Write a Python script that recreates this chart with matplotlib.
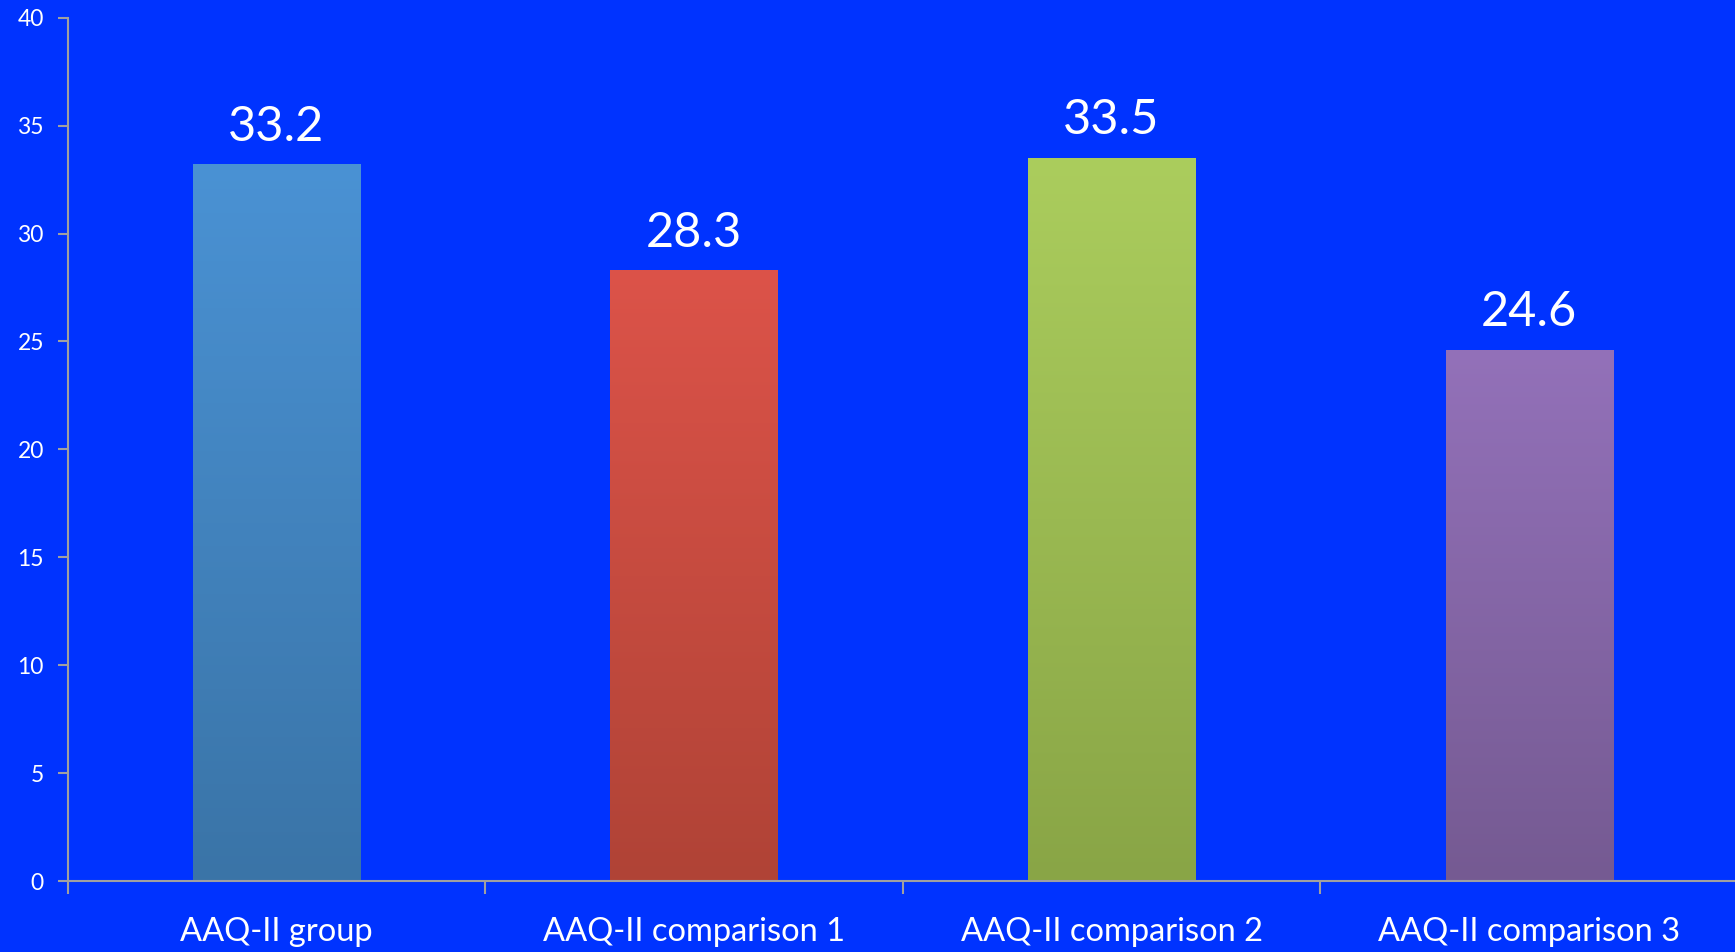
import matplotlib
matplotlib.use("Agg")
import matplotlib.pyplot as plt
import numpy as np
from matplotlib.colors import LinearSegmentedColormap

categories = ["AAQ-II group", "AAQ-II comparison 1", "AAQ-II comparison 2", "AAQ-II comparison 3"]
values = [33.2, 28.3, 33.5, 24.6]
value_labels = ["33.2", "28.3", "33.5", "24.6"]
top_colors = ["#4A92D4", "#DC5349", "#ABCD5D", "#9371B9"]
bottom_colors = ["#3A74A7", "#B04336", "#89A546", "#755A92"]
yticks = [0, 5, 10, 15, 20, 25, 30, 35, 40]

plt.rcParams['font.family'] = ['Lato', 'DejaVu Sans']
bg = "#0033FF"
axis_gray = "#A0A0A0"

fig = plt.figure(figsize=(17.35, 9.52), dpi=100, facecolor=bg)
ax = fig.add_axes([67.5/1735, 71/952, 1670.5/1735, 863.3/952])
ax.set_facecolor(bg)

x = np.arange(len(categories))
bars = ax.bar(x, values, width=0.4, color="none", zorder=2)
grad = np.linspace(0, 1, 256).reshape(-1, 1)
for b, ct, cb in zip(bars, top_colors, bottom_colors):
    cmap = LinearSegmentedColormap.from_list("g", [cb, ct])
    x0, w, h = b.get_x(), b.get_width(), b.get_height()
    im = ax.imshow(grad, cmap=cmap, origin="lower", aspect="auto",
                   extent=[x0, x0 + w, 0, h], zorder=2, interpolation="bicubic")
    im.set_clip_path(b)

for xi, v, lab in zip(x, values, value_labels):
    ax.annotate(lab, (xi, v), xytext=(0, 17), textcoords="offset points",
                ha="center", va="baseline", color="white", fontsize=35)

ax.set_xlim(-0.5, 3.5)
ax.set_ylim(0, 40)
ax.set_yticks(yticks)
ax.set_yticklabels([str(t) for t in yticks])
ax.set_xticks(x)
ax.set_xticklabels(categories)
ax.set_xticks(np.arange(-0.5, 4.0, 1.0), minor=True)
ax.tick_params(axis="x", which="major", length=0, pad=26, labelsize=23.5, labelcolor="white")
ax.tick_params(axis="x", which="minor", length=9, width=1.5, color=axis_gray, direction="out")
ax.tick_params(axis="y", length=7, width=1.5, color=axis_gray, labelsize=16.5, labelcolor="white", pad=10)

for s in ["top", "right"]:
    ax.spines[s].set_visible(False)
for s in ["left", "bottom"]:
    ax.spines[s].set_color(axis_gray)
    ax.spines[s].set_linewidth(1.5)
    ax.spines[s].set_zorder(3)

fig.savefig("out.png", dpi=100, facecolor=bg)
